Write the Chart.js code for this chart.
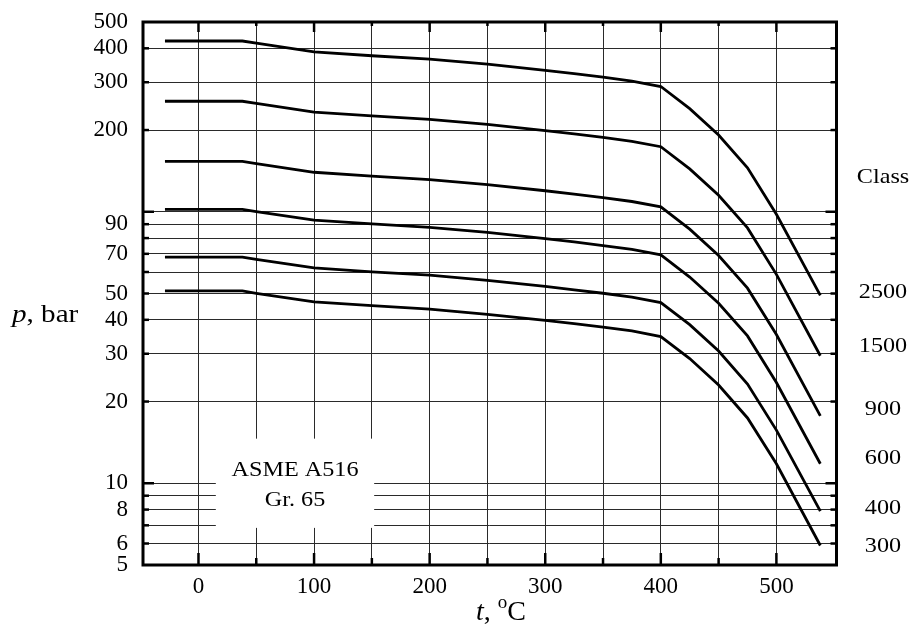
<!DOCTYPE html>
<html>
<head>
<meta charset="utf-8">
<title>ASME A516 Gr. 65 pressure–temperature ratings</title>
<script src="https://cdn.jsdelivr.net/npm/chart.js@4/dist/chart.umd.min.js"></script>
<style>
  html, body { margin: 0; padding: 0; background: #fff; }
  #wrap { width: 915px; height: 628px; position: relative; }
  .preload { position: absolute; left: -9999px; top: 0; font-family: 'Liberation Serif'; }
</style>
</head>
<body>
<div id="wrap"><canvas id="chart"></canvas></div>
<span class="preload">0123456789 Class</span><span class="preload" style="font-style:italic">pt</span>
<script>
// Temperatures (°C) at which the ratings are tabulated
const temperatures = [-29, 38, 50, 100, 150, 200, 250, 300, 325, 350, 375, 400, 425, 450, 475, 500, 538];

// Pressure classes and their maximum working pressures (bar)
const pressureClasses = ['300', '400', '600', '900', '1500', '2500'];
const class300  = [51.1, 51.1, 50.1, 46.6, 45.1, 43.8, 41.9, 39.8, 38.7, 37.6, 36.4, 34.7, 28.8, 23.0, 17.4, 11.8, 5.9];
const class400  = [68.1, 68.1, 66.8, 62.1, 60.1, 58.4, 55.9, 53.1, 51.6, 50.1, 48.5, 46.3, 38.4, 30.7, 23.2, 15.7, 7.9];
const class600  = [102.1, 102.1, 100.2, 93.2, 90.2, 87.6, 83.9, 79.6, 77.4, 75.1, 72.7, 69.4, 57.5, 46.0, 34.9, 23.5, 11.8];
const class900  = [153.2, 153.2, 150.4, 139.8, 135.2, 131.4, 125.8, 119.5, 116.1, 112.7, 109.1, 104.2, 86.3, 69.0, 52.3, 35.3, 17.7];
const class1500 = [255.3, 255.3, 250.6, 233.0, 225.4, 219.0, 209.7, 199.1, 193.6, 187.8, 181.8, 173.6, 143.8, 115.0, 87.2, 58.8, 29.5];
const class2500 = [425.5, 425.5, 417.7, 388.3, 375.6, 365.0, 349.5, 331.8, 322.6, 313.0, 303.1, 289.3, 239.7, 191.7, 145.3, 97.9, 49.2];
const classSeries = [class300, class400, class600, class900, class1500, class2500];

// Axis ticks
const xGridValues = [0, 50, 100, 150, 200, 250, 300, 350, 400, 450, 500];
const xTickLabels = [0, 100, 200, 300, 400, 500];
const yGridValues = [5, 6, 7, 8, 9, 10, 20, 30, 40, 50, 60, 70, 80, 90, 100, 200, 300, 400, 500];
const yTickLabels = [5, 6, 8, 10, 20, 30, 40, 50, 70, 90, 200, 300, 400, 500];
const yMajorValues = [10, 100];

const SERIF = "'Liberation Serif', 'Times New Roman', Times, serif";
const TEXT_STRETCH = 1.1;

// Draws text stretched horizontally by sx, anchored like textAlign
function drawText(ctx, text, x, y, font, align, sx) {
  ctx.save();
  ctx.font = font;
  ctx.textAlign = 'left';
  ctx.textBaseline = 'alphabetic';
  const w = ctx.measureText(text).width * sx;
  const left = align === 'center' ? x - w / 2 : align === 'right' ? x - w : x;
  ctx.translate(left, y);
  ctx.scale(sx, 1);
  ctx.fillText(text, 0, 0);
  ctx.restore();
  return w;
}

function segment(ctx, x1, y1, x2, y2) {
  ctx.beginPath();
  ctx.moveTo(x1, y1);
  ctx.lineTo(x2, y2);
  ctx.stroke();
}

const decorPlugin = {
  id: 'decor',
  beforeDatasetsDraw(chart, args, opts) {
    const { ctx, scales: { x, y } } = chart;
    const b = opts.box;
    const l = x.getPixelForValue(b.tFrom), r = x.getPixelForValue(b.tTo);
    const t = y.getPixelForValue(b.pTop), bt = y.getPixelForValue(b.pBottom);
    ctx.save();
    ctx.fillStyle = '#fff';
    ctx.fillRect(l, t, r - l, bt - t);
    ctx.fillStyle = '#000';
    const cx = (l + r) / 2;
    drawText(ctx, b.lines[0], cx, t + 37, '22px ' + SERIF, 'center', TEXT_STRETCH);
    drawText(ctx, b.lines[1], cx, t + 67, '22px ' + SERIF, 'center', TEXT_STRETCH);
    ctx.restore();
  },
  afterDraw(chart, args, opts) {
    const { ctx, chartArea: ca, scales: { x, y } } = chart;
    ctx.save();
    ctx.strokeStyle = '#000';
    ctx.fillStyle = '#000';

    // inward tick marks on all four sides
    ctx.lineWidth = 2.5;
    ctx.lineCap = 'butt';
    yGridValues.forEach(v => {
      if (v === y.min || v === y.max) return;
      const py = y.getPixelForValue(v);
      const len = yMajorValues.includes(v) ? 11 : 6;
      segment(ctx, ca.left, py, ca.left + len, py);
      segment(ctx, ca.right - len, py, ca.right, py);
    });
    xGridValues.forEach(v => {
      const px = x.getPixelForValue(v);
      const major = v % 100 === 0;
      segment(ctx, px, ca.bottom, px, ca.bottom - (major ? 12 : 7));
      segment(ctx, px, ca.top, px, ca.top + (major ? 10 : 4));
    });

    // heavy frame
    ctx.lineWidth = 3;
    ctx.strokeRect(ca.left, ca.top, ca.right - ca.left, ca.bottom - ca.top);

    // y title: italic p, then ", bar"
    const yt = opts.yTitle;
    const w = drawText(ctx, 'p', yt.x, yt.y, 'italic 26px ' + SERIF, 'left', 1.12);
    drawText(ctx, ', bar', yt.x + w, yt.y, '26px ' + SERIF, 'left', 1.12);

    // x title: italic t, ", ", superscript o, C
    const xt = opts.xTitle;
    const fMain = '28px ' + SERIF, fIt = 'italic 28px ' + SERIF, fSup = '19px ' + SERIF;
    ctx.font = fIt; const wT = ctx.measureText('t').width;
    ctx.font = fMain; const wSep = ctx.measureText(', ').width; const wC = ctx.measureText('C').width;
    ctx.font = fSup; const wO = ctx.measureText('o').width;
    let cx = xt.x - (wT + wSep + wO + wC) / 2;
    drawText(ctx, 't', cx, xt.y, fIt, 'left', 1); cx += wT;
    drawText(ctx, ', ', cx, xt.y, fMain, 'left', 1); cx += wSep;
    drawText(ctx, 'o', cx, xt.y - 12, fSup, 'left', 1); cx += wO;
    drawText(ctx, 'C', cx, xt.y, fMain, 'left', 1);

    // class labels on the right
    const cl = opts.classLabels;
    drawText(ctx, cl.heading, cl.x, y.getPixelForValue(cl.headingAt) + 7.5, '22px ' + SERIF, 'center', TEXT_STRETCH);
    pressureClasses.forEach((name, i) => {
      drawText(ctx, name, cl.x, y.getPixelForValue(cl.at[i]) + 7.5, '22px ' + SERIF, 'center', TEXT_STRETCH);
    });
    ctx.restore();
  }
};

const datasets = pressureClasses.map((name, i) => ({
  label: 'Class ' + name,
  data: temperatures.map((t, k) => ({ x: t, y: classSeries[i][k] })),
  borderColor: '#000',
  backgroundColor: '#000',
  borderWidth: 2.8,
  pointRadius: 0,
  tension: 0,
  fill: false,
  borderJoinStyle: 'miter'
}));

function buildChart() {
  new Chart(document.getElementById('chart'), {
    type: 'line',
    data: { datasets },
    plugins: [decorPlugin],
    options: {
      responsive: true,
      maintainAspectRatio: false,
      animation: false,
      layout: { padding: { left: 0, right: 78.5, top: 22, bottom: 0 } },
      plugins: {
        legend: { display: false },
        tooltip: { enabled: false },
        decor: {
          box: { tFrom: 15, tTo: 152, pTop: 14.6, pBottom: 6.85, lines: ['ASME A516', 'Gr. 65'] },
          yTitle: { x: 12, y: 322 },
          xTitle: { x: 501, y: 620 },
          classLabels: { x: 883, heading: 'Class', headingAt: 135.8, at: [5.94, 8.2, 12.5, 19.0, 32.4, 51.2] }
        }
      },
      scales: {
        x: {
          type: 'linear',
          min: -48,
          max: 552,
          afterBuildTicks: s => { s.ticks = xGridValues.map(v => ({ value: v })); },
          afterFit: s => { s.height = 63; s.paddingLeft = 0; s.paddingRight = 0; },
          ticks: {
            autoSkip: false,
            maxRotation: 0,
            padding: 8,
            color: '#000',
            font: { family: SERIF, size: 23 },
            callback: v => xTickLabels.includes(v) ? String(v) : ''
          },
          grid: { color: '#2a2a2a', lineWidth: 1, drawTicks: false },
          border: { display: false }
        },
        y: {
          type: 'logarithmic',
          min: 5,
          max: 500,
          afterBuildTicks: s => { s.ticks = yGridValues.map(v => ({ value: v })); },
          afterFit: s => { s.width = 143; s.paddingTop = 0; s.paddingBottom = 0; },
          ticks: {
            autoSkip: false,
            padding: 15,
            color: '#000',
            font: { family: SERIF, size: 23 },
            callback: v => yTickLabels.includes(v) ? String(v) : ''
          },
          grid: { color: '#2a2a2a', lineWidth: 1, drawTicks: false },
          border: { display: false }
        }
      }
    }
  });
}

Promise.all([
  document.fonts.load("22px 'Liberation Serif'"),
  document.fonts.load("italic 22px 'Liberation Serif'")
]).catch(() => {}).then(buildChart);
</script>
</body>
</html>
